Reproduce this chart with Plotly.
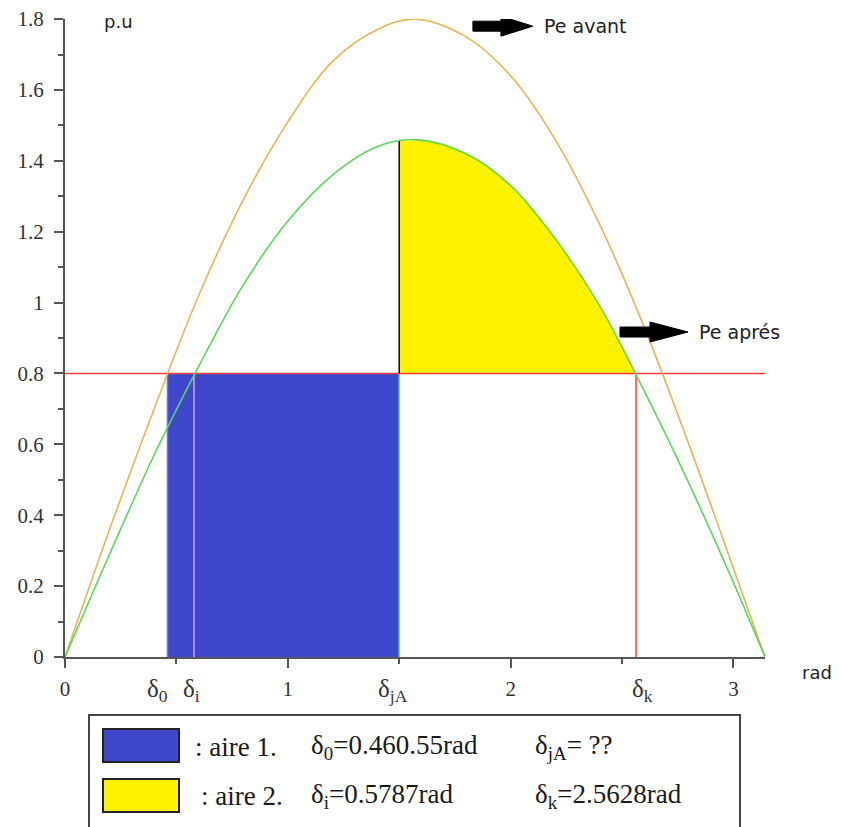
import plotly.graph_objects as go

# ---- data ----
delta_x = [0.0, 0.2, 0.4, 0.6, 0.8, 1.0, 1.2, 1.4, 1.5708, 1.8, 2.0, 2.2, 2.4, 2.6, 2.8, 3.0, 3.1416]
pe_avant = [0.0, 0.36, 0.70, 1.02, 1.29, 1.51, 1.68, 1.77, 1.80, 1.75, 1.64, 1.46, 1.22, 0.93, 0.60, 0.25, 0.0]
pe_apres = [0.0, 0.29, 0.57, 0.82, 1.05, 1.23, 1.36, 1.44, 1.46, 1.42, 1.33, 1.18, 0.99, 0.75, 0.49, 0.21, 0.0]

# green curve between delta_jA and delta_k (upper edge of area 2)
aire2_x = [1.5, 1.6, 1.7, 1.8, 1.9, 2.0, 2.1, 2.2, 2.3, 2.4, 2.5, 2.5628]
aire2_y = [1.456, 1.459, 1.448, 1.422, 1.382, 1.328, 1.260, 1.180, 1.089, 0.986, 0.874, 0.80]

pm = 0.8
delta_0 = 0.46
delta_i = 0.5787
delta_jA = 1.5
delta_k = 2.5628
x_max = 3.1416

x_ticks = [0, 1, 2, 3]
x_tick_text = ["0", "1", "2", "3"]
y_ticks = [0, 0.2, 0.4, 0.6, 0.8, 1.0, 1.2, 1.4, 1.6, 1.8]
y_tick_text = ["0", "0.2", "0.4", "0.6", "0.8", "1", "1.2", "1.4", "1.6", "1.8"]
delta_labels = ["δ<sub>0</sub>", "δ<sub>i</sub>", "δ<sub>jA</sub>", "δ<sub>k</sub>"]
delta_label_pos = [delta_0, delta_i, delta_jA, delta_k]
delta_label_shift = [-10, -2, -6, 6]

legend_rows = [
    [": aire 1.", "δ<sub>0</sub>=0.460.55rad", "δ<sub>jA</sub>= ??"],
    [": aire 2.", "δ<sub>i</sub>=0.5787rad", "δ<sub>k</sub>=2.5628rad"],
]

BLUE = "#3F48CC"
YELLOW = "#FFF200"
ORANGE = "#E8B452"
GREEN = "#5CD65C"
RED = "#FF3B3B"
AXIS = "#555555"
SERIF = "Liberation Serif, Times New Roman, serif"
SANS = "DejaVu Sans, Verdana, sans-serif"

# page body has an 8px margin: plot area must land on page x 65..765, y 19..657
BODY = 8
FIG_W, FIG_H = 841, 827
ML, MT = 65 - BODY, 19 - BODY
PW, PH = 700, 638

fig = go.Figure()

# area 1 (blue rectangle)
fig.add_trace(go.Scatter(x=[delta_0, delta_jA], y=[pm, pm], mode="lines",
                         line=dict(width=0), fill="tozeroy", fillcolor=BLUE,
                         hoverinfo="skip"))
# area 2 (yellow)
fig.add_trace(go.Scatter(x=[delta_jA, delta_k], y=[pm, pm], mode="lines",
                         line=dict(width=0), hoverinfo="skip"))
fig.add_trace(go.Scatter(x=aire2_x, y=aire2_y, mode="lines",
                         line=dict(width=0), fill="tonexty", fillcolor=YELLOW,
                         hoverinfo="skip"))

# horizontal Pm line
fig.add_trace(go.Scatter(x=[0, x_max], y=[pm, pm], mode="lines",
                         line=dict(color=RED, width=1.5), cliponaxis=False))

# vertical lines
vlines = [(delta_0, 0, pm, "#6B6BFF"), (delta_i, 0, pm, "#E8A0E8"),
          (delta_jA, 0, pm, "#3FE0E8"), (delta_k, 0, pm, RED),
          (delta_jA, pm, aire2_y[0], "#000000")]
for xv, y0, y1, c in vlines:
    fig.add_trace(go.Scatter(x=[xv, xv], y=[y0, y1], mode="lines",
                             line=dict(color=c, width=1.5), cliponaxis=False))

# curves
fig.add_trace(go.Scatter(x=delta_x, y=pe_avant, mode="lines",
                         line=dict(color=ORANGE, width=1.6, shape="spline", smoothing=1.0),
                         cliponaxis=False))
fig.add_trace(go.Scatter(x=delta_x, y=pe_apres, mode="lines",
                         line=dict(color=GREEN, width=1.6, shape="spline", smoothing=1.0),
                         cliponaxis=False))

fig.update_layout(
    width=FIG_W, height=FIG_H,
    margin=dict(l=ML, r=FIG_W - ML - PW, t=MT, b=FIG_H - MT - PH, autoexpand=False),
    paper_bgcolor="white", plot_bgcolor="white",
    showlegend=False,
    xaxis=dict(range=[0, x_max], showgrid=False, zeroline=False, automargin=False,
               showline=True, linecolor=AXIS, linewidth=2,
               ticks="outside", ticklen=9, tickwidth=2, tickcolor=AXIS,
               tickvals=x_ticks, ticktext=x_tick_text, ticklabeloverflow="allow",
               minor=dict(dtick=0.5, ticks="outside", ticklen=5, tickwidth=2, tickcolor=AXIS, showgrid=False),
               tickfont=dict(family=SERIF, size=21, color="#333333"),
               ticklabelstandoff=3),
    yaxis=dict(range=[0, 1.8003], showgrid=False, zeroline=False, automargin=False,
               showline=True, linecolor=AXIS, linewidth=2,
               ticks="outside", ticklen=9, tickwidth=2, tickcolor=AXIS,
               tickvals=y_ticks, ticktext=y_tick_text, ticklabeloverflow="allow",
               minor=dict(dtick=0.1, tick0=0, ticks="outside", ticklen=5, tickwidth=2, tickcolor=AXIS, showgrid=False),
               tickfont=dict(family=SERIF, size=21, color="#333333"),
               ticklabelstandoff=6),
)

# delta labels under the x axis
for lab, xv, sh in zip(delta_labels, delta_label_pos, delta_label_shift):
    fig.add_annotation(x=xv, y=0, xref="x", yref="paper", text=lab, showarrow=False,
                       xanchor="center", yanchor="middle", yshift=-33, xshift=sh,
                       font=dict(family=SERIF, size=25, color="#333333"))


def px_x(p):
    return (p - 65) / PW


def px_y(p):
    return (657 - p) / PH


# axis unit labels
fig.add_annotation(x=px_x(102), y=px_y(21), xref="paper", yref="paper",
                   text="p.u", showarrow=False, xanchor="left", yanchor="middle",
                   font=dict(family=SANS, size=18, color="#222222"))
fig.add_annotation(x=px_x(800), y=px_y(673), xref="paper", yref="paper",
                   text="rad", showarrow=False, xanchor="left", yanchor="middle",
                   font=dict(family=SANS, size=18, color="#222222"))

# arrows and curve names
arrow_path = "M -60,-5 L -32,-5 L -32,-10 L 0,0 L -32,10 L -32,5 L -60,5 Z"
arrow_path2 = "M -68,-5 L -38,-5 L -38,-10 L 0,0 L -38,10 L -38,5 L -68,5 Z"
for (ax_, ay_, pth, txt) in [(2.100, 1.780, arrow_path, "Pe avant"),
                             (2.796, 0.917, arrow_path2, "Pe aprés")]:
    fig.add_shape(type="path", xref="x", yref="y", xsizemode="pixel", ysizemode="pixel",
                  xanchor=ax_, yanchor=ay_, path=pth, fillcolor="black",
                  line=dict(color="black", width=1))
    fig.add_annotation(x=ax_, y=ay_, xref="x", yref="y", text=txt, showarrow=False,
                       xanchor="left", yanchor="middle", xshift=9,
                       font=dict(family=SANS, size=19, color="#222222"))

# legend box
fig.add_shape(type="rect", xref="paper", yref="paper",
              x0=px_x(89), x1=px_x(740), y0=px_y(715), y1=px_y(840),
              line=dict(color="#444444", width=2), fillcolor="rgba(0,0,0,0)")
fig.add_shape(type="rect", xref="paper", yref="paper",
              x0=px_x(103), x1=px_x(179), y0=px_y(729), y1=px_y(762),
              line=dict(color="#222222", width=2), fillcolor=BLUE)
fig.add_shape(type="rect", xref="paper", yref="paper",
              x0=px_x(103), x1=px_x(179), y0=px_y(779), y1=px_y(812),
              line=dict(color="#222222", width=2), fillcolor=YELLOW)

row_y = [747, 796]
col_x = [[193, 309, 533], [199, 309, 533]]
for r, row in enumerate(legend_rows):
    for c, txt in enumerate(row):
        fig.add_annotation(x=px_x(col_x[r][c]), y=px_y(row_y[r]), xref="paper", yref="paper",
                           text=txt, showarrow=False, xanchor="left", yanchor="middle",
                           font=dict(family=SERIF, size=27, color="#1a1a1a"))

fig.write_html("out.html")
